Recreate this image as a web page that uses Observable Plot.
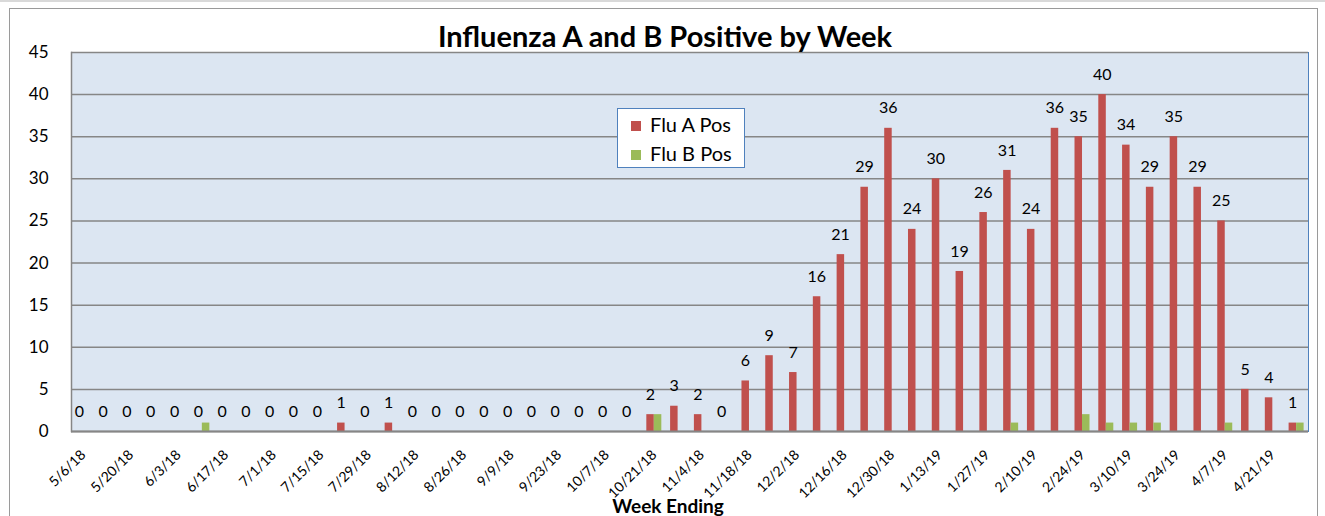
<!DOCTYPE html>
<html><head><meta charset="utf-8">
<script src="https://cdn.jsdelivr.net/npm/d3@7"></script>
<script src="https://cdn.jsdelivr.net/npm/@observablehq/plot@0.6"></script>
<style>
body{margin:0;background:#fff;font-family:Lato,"Noto Sans",sans-serif;}
#wrap{position:relative;width:1325px;height:516px;overflow:hidden;}
#border{position:absolute;left:9px;top:8px;width:1307px;height:530px;border:1px solid #9a9a9a;pointer-events:none;}
#topline{position:absolute;left:0;top:0;width:1325px;height:2px;background:#d9d9d9;}
#legend{position:absolute;left:617px;top:108px;width:126px;height:58px;background:#fff;border:1px solid #4f81bd;font-size:20px;color:#000;}
#legend .row{position:absolute;left:13px;height:22px;line-height:22px;white-space:nowrap;}
#legend .sw{display:inline-block;width:10px;height:10px;margin-right:9px;vertical-align:middle;position:relative;top:-1px;}
</style></head>
<body><div id="wrap"><div id="topline"></div><div id="chart"></div><div id="border"></div>
<div id="legend">
<div class="row" style="top:4px"><span class="sw" style="background:#c0504d"></span>Flu A Pos</div>
<div class="row" style="top:33px"><span class="sw" style="background:#9bbb59"></span>Flu B Pos</div>
</div></div>
<script>
const weeks = ["5/6/18","5/13/18","5/20/18","5/27/18","6/3/18","6/10/18","6/17/18","6/24/18","7/1/18","7/8/18","7/15/18","7/22/18","7/29/18","8/5/18","8/12/18","8/19/18","8/26/18","9/2/18","9/9/18","9/16/18","9/23/18","9/30/18","10/7/18","10/14/18","10/21/18","10/28/18","11/4/18","11/11/18","11/18/18","11/25/18","12/2/18","12/9/18","12/16/18","12/23/18","12/30/18","1/6/19","1/13/19","1/20/19","1/27/19","2/3/19","2/10/19","2/17/19","2/24/19","3/3/19","3/10/19","3/17/19","3/24/19","3/31/19","4/7/19","4/14/19","4/21/19","4/28/19"];
const fluA = [0,0,0,0,0,0,0,0,0,0,0,1,0,1,0,0,0,0,0,0,0,0,0,0,2,3,2,0,6,9,7,16,21,29,36,24,30,19,26,31,24,36,35,40,34,29,35,29,25,5,4,1];
const fluB = [0,0,0,0,0,1,0,0,0,0,0,0,0,0,0,0,0,0,0,0,0,0,0,0,2,0,0,0,0,0,0,0,0,0,0,0,0,0,0,1,0,0,2,1,1,1,0,0,1,0,0,1];
const tickLabels = weeks.filter((d, i) => i % 2 === 0);
const yTicks = [0,5,10,15,20,25,30,35,40,45];

const data = weeks.map((w, i) => ({week: w, a: fluA[i], b: fluB[i]}));
const W = 1325, mL = 71, mR = 17;
const bw = (W - mL - mR) / weeks.length;
const barW = 7.5;

const chart = Plot.plot({
  width: W, height: 516,
  marginLeft: mL, marginRight: mR, marginTop: 52, marginBottom: 85,
  style: {fontFamily: "Lato, 'Noto Sans', sans-serif", background: "transparent", overflow: "visible", color: "#000"},
  x: {domain: weeks, paddingInner: 0, paddingOuter: 0, axis: null},
  y: {domain: [0, 45], axis: null},
  marks: [
    Plot.frame({fill: "#dce6f2", stroke: "#4f81bd"}),
    Plot.gridY(yTicks, {stroke: "#868686", strokeOpacity: 1, strokeWidth: 1.5}),
    Plot.barY(data, {x: "week", y: "a", fill: "#c0504d", insetLeft: bw/2 - barW, insetRight: bw/2}),
    Plot.barY(data, {x: "week", y: "b", fill: "#9bbb59", insetLeft: bw/2, insetRight: bw/2 - barW}),
    Plot.frame({anchor: "left", stroke: "#868686", strokeWidth: 1.5}),
    Plot.ruleY([0], {stroke: "#868686", strokeWidth: 2}),
    Plot.axisY({ticks: yTicks, tickSize: 0, tickPadding: 23, fontSize: 17, label: null}),
    Plot.axisX({ticks: tickLabels, tickRotate: -45, tickSize: 0, tickPadding: 21, fontSize: 14, label: null}),
    Plot.text(data, {x: "week", y: "a", text: d => String(d.a), dy: -20, dx: -4, fontSize: 16}),
    Plot.text(["Influenza A and B Positive by Week"], {frameAnchor: "top", lineAnchor: "middle", dx: -25, dy: -15, fontSize: 29, fontWeight: "bold"}),
    Plot.text(["Week Ending"], {frameAnchor: "bottom", lineAnchor: "middle", dx: -22, dy: 75, fontSize: 19, fontWeight: "bold"})
  ]
});
document.getElementById("chart").appendChild(chart);
</script>
</body></html>
